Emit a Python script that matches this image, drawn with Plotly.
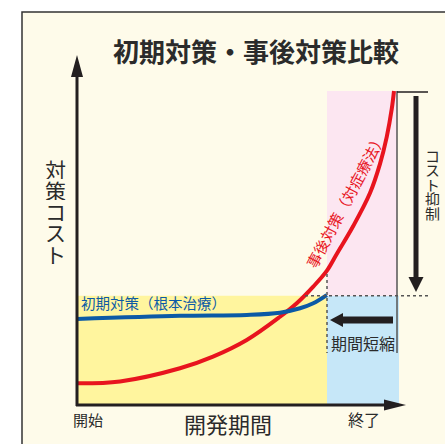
import plotly.graph_objects as go

# ---- data (time units, cost units) ----
reactive_t = [0.0, 1.72, 4.12, 5.44, 6.79, 8.12, 8.79, 9.45, 9.99, 10.39, 11.05, 11.72, 12.12, 12.39, 12.59, 12.68]
reactive_c = [0.69, 0.75, 1.17, 1.54, 2.07, 2.81, 3.24, 3.77, 4.27, 4.81, 5.70, 6.75, 7.68, 8.54, 9.43, 10.0]
proactive_t = [0.0, 4.12, 6.79, 8.12, 8.92, 9.45, 9.99]
proactive_c = [2.74, 2.84, 2.87, 2.94, 3.08, 3.24, 3.50]

title_text = "初期対策・事後対策比較"
y_label = "対策コスト"
x_label = "開発期間"
start_label = "開始"
end_label = "終了"
proactive_label = "初期対策（根本治療）"
reactive_label = "事後対策（対症療法）"
shorten_label = "期間短縮"
suppress_label = "コスト抑制"

W, H = 445, 444
PXT, PXC = 25.0, 31.4   # px per unit


def X(px):
    return (px - 77) / PXT


def Y(py):
    return (405 - py) / PXC


FONT = "Noto Sans CJK JP"
DARK = "#231f20"
RED = "#e8141e"
BLUE = "#0b5aa6"

fig = go.Figure()

shapes = []
# outer cream frame
shapes.append(dict(type="rect", xref="x", yref="y", x0=X(22), x1=X(460), y0=Y(12), y1=Y(460),
                   fillcolor="#fefbea", line=dict(color="#333333", width=1.5), layer="below"))
# regions
shapes.append(dict(type="rect", xref="x", yref="y", x0=0, x1=10, y0=0, y1=3.48,
                   fillcolor="#fff59e", line=dict(width=0), layer="below"))
shapes.append(dict(type="rect", xref="x", yref="y", x0=10, x1=X(399), y0=0, y1=3.48,
                   fillcolor="#c6e7f8", line=dict(width=0), layer="below"))
shapes.append(dict(type="rect", xref="x", yref="y", x0=10, x1=X(397), y0=3.48, y1=10,
                   fillcolor="#fce6f1", line=dict(width=0), layer="below"))
# dotted guides
shapes.append(dict(type="line", xref="x", yref="y", x0=X(305), x1=X(428), y0=3.48, y1=3.48,
                   line=dict(color="#555555", width=1.5, dash="dot")))
shapes.append(dict(type="line", xref="x", yref="y", x0=10, x1=10, y0=Y(274), y1=Y(353),
                   line=dict(color="#555555", width=1.5, dash="dot")))
# gray vertical line and top black tick
shapes.append(dict(type="line", xref="x", yref="y", x0=X(397), x1=X(397), y0=Y(91), y1=Y(353),
                   line=dict(color="#555555", width=1.5)))
shapes.append(dict(type="line", xref="x", yref="y", x0=X(397), x1=X(428), y0=Y(92), y1=Y(92),
                   line=dict(color=DARK, width=1.5)))
# axes
shapes.append(dict(type="line", xref="x", yref="y", x0=0, x1=0, y0=Y(406), y1=Y(72),
                   line=dict(color=DARK, width=3)))
shapes.append(dict(type="line", xref="x", yref="y", x0=X(76), x1=X(388), y0=0, y1=0,
                   line=dict(color=DARK, width=3)))


def tri(p1, p2, p3):
    return "M %f,%f L %f,%f L %f,%f Z" % (X(p1[0]), Y(p1[1]), X(p2[0]), Y(p2[1]), X(p3[0]), Y(p3[1]))


# y axis head
shapes.append(dict(type="path", xref="x", yref="y", path=tri((77, 55), (71, 77), (83, 77)),
                   fillcolor=DARK, line=dict(width=0)))
# x axis head
shapes.append(dict(type="path", xref="x", yref="y", path=tri((406, 405), (384, 399.5), (384, 410.5)),
                   fillcolor=DARK, line=dict(width=0)))
# down arrow (cost suppression)
shapes.append(dict(type="line", xref="x", yref="y", x0=X(416), x1=X(416), y0=Y(96), y1=Y(280),
                   line=dict(color=DARK, width=5)))
shapes.append(dict(type="path", xref="x", yref="y", path=tri((416, 292), (408.5, 277), (423.5, 277)),
                   fillcolor=DARK, line=dict(width=0)))
# left arrow (period shortening)
shapes.append(dict(type="line", xref="x", yref="y", x0=X(341), x1=X(393), y0=Y(320), y1=Y(320),
                   line=dict(color=DARK, width=7)))
shapes.append(dict(type="path", xref="x", yref="y", path=tri((330, 320), (343, 313), (343, 327)),
                   fillcolor=DARK, line=dict(width=0)))

fig.add_trace(go.Scatter(x=reactive_t, y=reactive_c, mode="lines",
                         line=dict(color=RED, width=4, shape="spline", smoothing=1.0),
                         hoverinfo="skip", showlegend=False))
fig.add_trace(go.Scatter(x=proactive_t, y=proactive_c, mode="lines",
                         line=dict(color=BLUE, width=4, shape="spline", smoothing=1.0),
                         hoverinfo="skip", showlegend=False))

ann = []


def text(px, py, s, size, color="#2b2b2b", angle=0, bold=False, h=None):
    d = dict(x=X(px), y=Y(py), xref="x", yref="y", text=("<b>%s</b>" % s) if bold else s,
             showarrow=False, textangle=angle, xanchor="center", yanchor="middle",
             font=dict(family=FONT, size=size, color=color))
    if h is not None:
        d["height"] = h
        d["borderpad"] = 0
    ann.append(d)


text(256, 50, title_text, 26, bold=True)
for i, ch in enumerate(y_label):
    text(55, 168 + i * 21.3, ch, 21, h=21)
for i, ch in enumerate(suppress_label):
    text(432, 155 + i * 14.6, ch, 15, h=14.5)
text(228, 423, x_label, 22)
text(88, 419, start_label, 15)
text(364, 419, end_label, 16)
text(363, 343, shorten_label, 16)
text(153, 302, proactive_label, 14.5, color=BLUE)
text(345, 200, reactive_label, 15, color=RED, angle=-62)

fig.update_layout(
    width=W, height=H, margin=dict(l=0, r=0, t=0, b=0),
    paper_bgcolor="white", plot_bgcolor="white",
    xaxis=dict(range=[X(0), X(W)], visible=False, fixedrange=True),
    yaxis=dict(range=[Y(H), Y(0)], visible=False, fixedrange=True),
    shapes=shapes, annotations=ann,
)
fig.write_html("out.html")
